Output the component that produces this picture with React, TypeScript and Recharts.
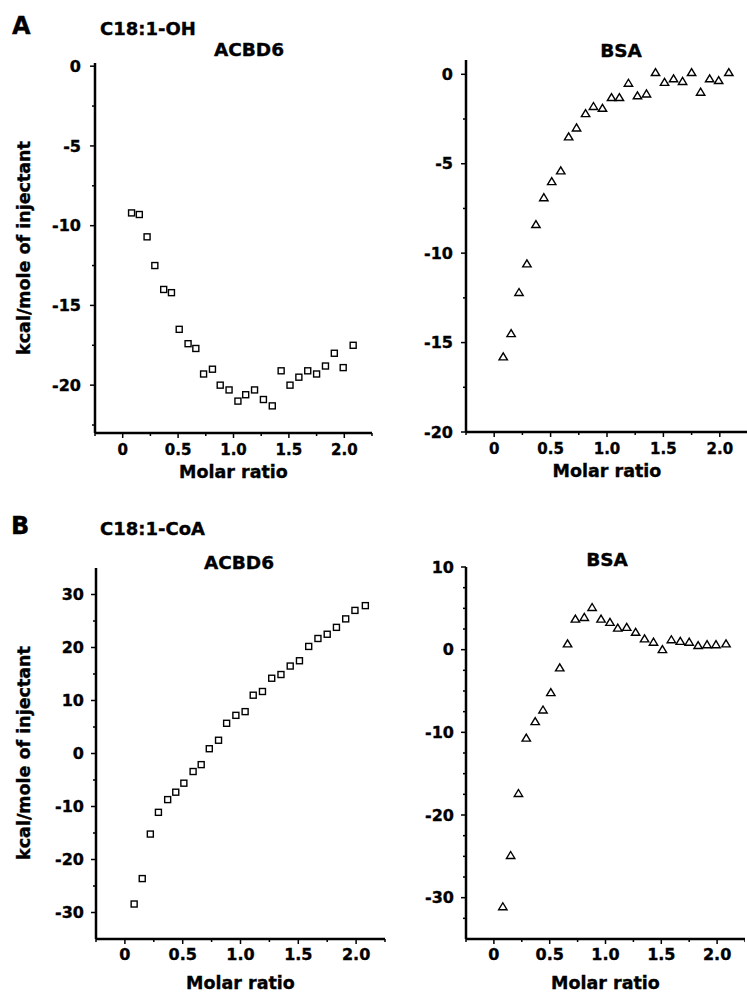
import React from "react";
import { ScatterChart, Scatter, XAxis, YAxis } from "recharts";

// molar ratio of each injection (same for all four titrations)
const molarRatio = [
  0.08, 0.15, 0.22, 0.29, 0.37, 0.44, 0.51, 0.59, 0.66, 0.73, 0.81, 0.88, 0.96,
  1.04, 1.11, 1.19, 1.27, 1.35, 1.43, 1.51, 1.59, 1.67, 1.75, 1.83, 1.91, 1.99,
  2.08,
];

// kcal/mole of injectant
const ohAcbd6 = [
  -9.2, -9.3, -10.7, -12.5, -14.0, -14.2, -16.5, -17.4, -17.7, -19.3, -19.0,
  -20.0, -20.3, -21.0, -20.6, -20.3, -20.9, -21.3, -19.1, -20.0, -19.5, -19.1,
  -19.3, -18.8, -18.0, -18.9, -17.5,
];
const ohBsa = [
  -15.8, -14.5, -12.2, -10.6, -8.4, -6.9, -6.0, -5.4, -3.5, -3.0, -2.2, -1.8,
  -1.9, -1.3, -1.3, -0.5, -1.2, -1.1, 0.1, -0.45, -0.25, -0.4, 0.1, -1.0, -0.25,
  -0.35, 0.1,
];
const coaAcbd6 = [
  -28.4, -23.6, -15.2, -11.1, -8.7, -7.3, -5.6, -3.4, -2.1, 0.9, 2.5, 5.7, 7.2,
  7.9, 11.0, 11.7, 14.2, 14.9, 16.5, 17.5, 20.2, 21.7, 22.5, 23.8, 25.4, 27.0,
  27.9,
];
const coaBsa = [
  -31.1, -24.9, -17.4, -10.7, -8.7, -7.3, -5.2, -2.2, 0.7, 3.7, 3.9, 5.1, 3.7,
  3.3, 2.6, 2.7, 2.1, 1.3, 0.9, 0.0, 1.2, 1.0, 0.9, 0.5, 0.6, 0.6, 0.7,
];

// ticks
const xMajorTicks = [0, 0.5, 1, 1.5, 2];
const xMinorTicks = [-0.25, 0.25, 0.75, 1.25, 1.75, 2.25];
const ohAcbd6YMajor = [-20, -15, -10, -5, 0];
const ohAcbd6YMinor = [-22.5, -17.5, -12.5, -7.5, -2.5];
const ohBsaYMajor = [-20, -15, -10, -5, 0];
const ohBsaYMinor = [-17.5, -12.5, -7.5, -2.5];
const coaAcbd6YMajor = [-30, -20, -10, 0, 10, 20, 30];
const coaAcbd6YMinor = [-25, -15, -5, 5, 15, 25];
const coaBsaYMajor = [-30, -20, -10, 0, 10];
const coaBsaYMinor = [
  -32.5, -27.5, -25, -22.5, -17.5, -15, -12.5, -7.5, -5, -2.5, 2.5, 5, 7.5,
];

const FONT = "'DejaVu Sans', 'Liberation Sans', sans-serif";
// a thin outline makes the bold text as heavy as in the figure
const HEAVY = { stroke: "#000", strokeWidth: 0.35 };

const renderSquare = (props: any) => (
  <rect
    x={props.cx - 3}
    y={props.cy - 3}
    width={6}
    height={6}
    fill="#fff"
    stroke="#000"
    strokeWidth={1.4}
  />
);

const renderTriangle = (props: any) => {
  const { cx, cy } = props;
  return (
    <path
      d={`M${cx},${cy - 4} L${cx + 4.2},${cy + 3} L${cx - 4.2},${cy + 3} Z`}
      fill="#fff"
      stroke="#000"
      strokeWidth={1.4}
    />
  );
};

interface PanelProps {
  left: number;
  top: number;
  width: number;
  height: number;
  marginTop: number;
  marginRight: number;
  axisWidth: number;
  xAxisHeight: number;
  yDomain: [number, number];
  yMajor: number[];
  yMinor: number[];
  values: number[];
  marker: "square" | "triangle";
  tickFont: number;
  yGap: number;
  xLabelDy: number;
  xLabelOffset: number;
}

function Panel(p: PanelProps) {
  const data = molarRatio.map((x, i) => ({ x, y: p.values[i] }));
  const yTicks = [...p.yMajor, ...p.yMinor].sort((a, b) => a - b);
  const xTicks = [...xMajorTicks, ...xMinorTicks].sort((a, b) => a - b);

  const xTick = (t: any) => {
    const v = t.payload.value;
    const major = xMajorTicks.includes(v);
    return (
      <g>
        <line x1={t.x} x2={t.x} y1={t.y} y2={t.y + (major ? 5 : 3)} stroke="#000" strokeWidth={1.5} />
        {major && (
          <text
            x={t.x}
            y={t.y + p.xLabelDy}
            textAnchor="middle"
            fontFamily={FONT}
            fontWeight="bold"
            fontSize={p.tickFont}
            fill="#000"
            {...HEAVY}
          >
            {v === 0 ? "0" : v.toFixed(1)}
          </text>
        )}
      </g>
    );
  };

  const yTick = (t: any) => {
    const v = t.payload.value;
    const major = p.yMajor.includes(v);
    return (
      <g>
        <line x1={t.x - (major ? 5 : 3)} x2={t.x} y1={t.y} y2={t.y} stroke="#000" strokeWidth={1.5} />
        {major && (
          <text
            x={t.x - p.yGap}
            y={t.y}
            dy="0.36em"
            textAnchor="end"
            fontFamily={FONT}
            fontWeight="bold"
            fontSize={16}
            fill="#000"
            {...HEAVY}
          >
            {v}
          </text>
        )}
      </g>
    );
  };

  return (
    <div style={{ position: "absolute", left: p.left, top: p.top }}>
      <ScatterChart
        width={p.width}
        height={p.height}
        margin={{ top: p.marginTop, right: p.marginRight, bottom: 0, left: 0 }}
      >
        <XAxis
          type="number"
          dataKey="x"
          domain={[-0.25, 2.25]}
          allowDataOverflow
          ticks={xTicks}
          interval={0}
          tickSize={0}
          tickMargin={0}
          tickLine={false}
          axisLine={{ stroke: "#000", strokeWidth: 2.5 }}
          height={p.xAxisHeight}
          tick={xTick}
          label={{
            value: "Molar ratio",
            position: "insideBottom",
            offset: p.xLabelOffset,
            fill: "#000",
            fontSize: 17.5,
            fontWeight: "bold",
            fontFamily: FONT,
            ...HEAVY,
          }}
        />
        <YAxis
          type="number"
          dataKey="y"
          domain={p.yDomain}
          allowDataOverflow
          ticks={yTicks}
          interval={0}
          tickSize={0}
          tickMargin={0}
          tickLine={false}
          axisLine={{ stroke: "#000", strokeWidth: 2.5 }}
          width={p.axisWidth}
          tick={yTick}
        />
        <Scatter
          data={data}
          isAnimationActive={false}
          shape={p.marker === "square" ? renderSquare : renderTriangle}
        />
      </ScatterChart>
    </div>
  );
}

const textStyle = { fontFamily: FONT, fontWeight: "bold" as const, fill: "#000", ...HEAVY };

export default function App() {
  return (
    <div
      style={{
        position: "absolute",
        left: 0,
        top: 0,
        width: 747,
        height: 993,
        overflow: "hidden",
        background: "#fff",
      }}
    >
      <Panel
        left={0} top={0} width={375} height={490}
        marginTop={63} marginRight={3} axisWidth={95} xAxisHeight={57}
        yDomain={[-23, 0.2]} yMajor={ohAcbd6YMajor} yMinor={ohAcbd6YMinor}
        values={ohAcbd6} marker="square" tickFont={15} yGap={14}
        xLabelDy={22} xLabelOffset={12}
      />
      <Panel
        left={370} top={0} width={378} height={489}
        marginTop={60} marginRight={0} axisWidth={96} xAxisHeight={57}
        yDomain={[-20, 0.8]} yMajor={ohBsaYMajor} yMinor={ohBsaYMinor}
        values={ohBsa} marker="triangle" tickFont={15} yGap={13}
        xLabelDy={22} xLabelOffset={12}
      />
      <Panel
        left={0} top={480} width={386} height={513}
        marginTop={88} marginRight={1} axisWidth={96} xAxisHeight={54}
        yDomain={[-35, 35]} yMajor={coaAcbd6YMajor} yMinor={coaAcbd6YMinor}
        values={coaAcbd6} marker="square" tickFont={16} yGap={12}
        xLabelDy={21} xLabelOffset={4}
      />
      <Panel
        left={370} top={480} width={375} height={513}
        marginTop={87} marginRight={0} axisWidth={96} xAxisHeight={54}
        yDomain={[-35, 10]} yMajor={coaBsaYMajor} yMinor={coaBsaYMinor}
        values={coaBsa} marker="triangle" tickFont={16} yGap={12}
        xLabelDy={21} xLabelOffset={4}
      />
      <svg
        width={747}
        height={993}
        style={{ position: "absolute", left: 0, top: 0, pointerEvents: "none" }}
      >
        <text x={12} y={34} fontSize={24} {...textStyle}>A</text>
        <text x={100} y={35} fontSize={18} {...textStyle}>C18:1-OH</text>
        <text x={249} y={56} fontSize={18.5} textAnchor="middle" {...textStyle}>ACBD6</text>
        <text x={621} y={57} fontSize={18.5} textAnchor="middle" {...textStyle}>BSA</text>
        <text transform="translate(30,248) rotate(-90)" fontSize={17.5} textAnchor="middle" {...textStyle}>
          kcal/mole of injectant
        </text>

        <text x={11} y={534} fontSize={24} {...textStyle}>B</text>
        <text x={100} y={535} fontSize={18} {...textStyle}>C18:1-CoA</text>
        <text x={239} y={569} fontSize={18.5} textAnchor="middle" {...textStyle}>ACBD6</text>
        <text x={607} y={566} fontSize={18.5} textAnchor="middle" {...textStyle}>BSA</text>
        <text transform="translate(30,753) rotate(-90)" fontSize={17.5} textAnchor="middle" {...textStyle}>
          kcal/mole of injectant
        </text>
      </svg>
    </div>
  );
}
